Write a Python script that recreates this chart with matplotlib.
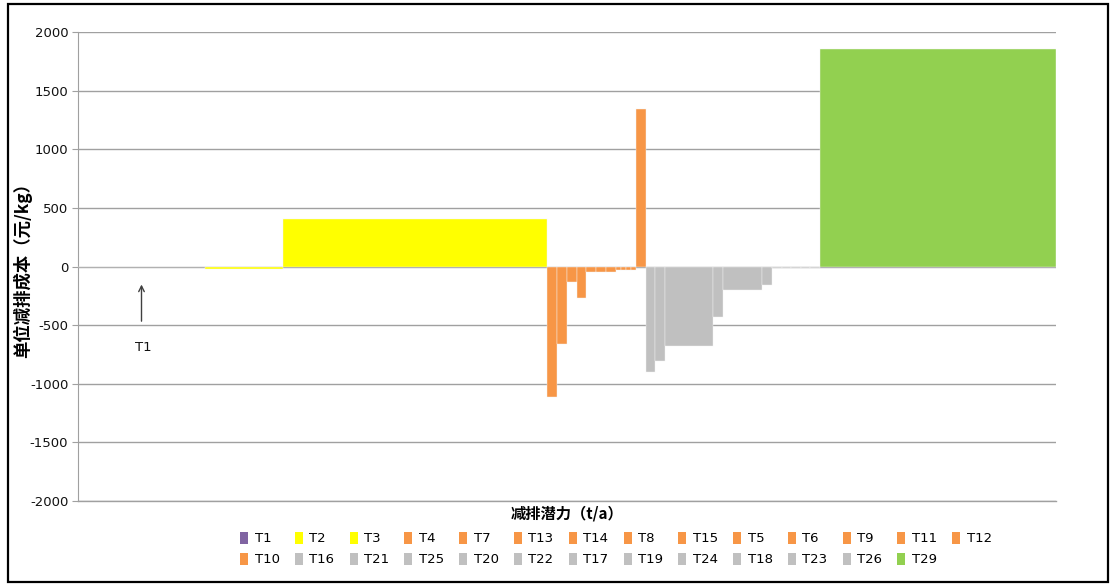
import numpy as np
import matplotlib
matplotlib.use("Agg")
import matplotlib.pyplot as plt
from matplotlib.patches import Patch, Rectangle

plt.rcParams['font.family'] = ['DejaVu Sans', 'Noto Sans CJK SC']
plt.rcParams['axes.unicode_minus'] = False

# measures in the order drawn along the curve
labels = ["T1", "T2", "T3",
          "T4", "T7", "T13", "T14", "T8", "T15", "T5", "T6", "T9", "T11", "T12", "T10",
          "T16", "T21", "T25", "T20", "T22", "T17", "T19", "T24", "T18", "T23", "T26",
          "T29"]
# abatement potential (t/a), bar widths
potential = [127, 78, 264,
             9.5, 10, 10, 9.5, 10, 10, 10, 5, 5, 5, 5, 10,
             9, 10, 48, 10, 39, 10, 9.6, 9.6, 9.6, 9.6, 9.6,
             236]
# unit abatement cost (yuan/kg), bar heights
cost = [0, -25, 403,
        -1110, -660, -135, -271, -44, -44, -44, -27, -27, -27, -27, 1340,
        -900, -805, -678, -428, -197, -160, -15, -15, -12, -12, -10,
        1855]
groups = ["p", "y", "y",
          "o", "o", "o", "o", "o", "o", "o", "o", "o", "o", "o", "o",
          "g", "g", "g", "g", "g", "g", "g", "g", "g", "g", "g",
          "n"]
palette = {"p": "#8064A2", "y": "#FFFF00", "o": "#F79646", "g": "#C0C0C0", "n": "#92D050"}
colors = [palette[g] for g in groups]

left = np.concatenate([[0], np.cumsum(potential)[:-1]])

fig = plt.figure(figsize=(11.15, 5.87), dpi=100)
ax = fig.add_axes([78/1115, 1 - 501/587, 978/1115, 469/587])

bars = ax.bar(left, cost, width=potential, align='edge', color=colors,
              edgecolor='#f4f4f4', linewidth=0.3, zorder=3)

ax.set_xlim(0, sum(potential))
ax.set_ylim(-2000, 2000)
ax.set_yticks(np.arange(-2000, 2001, 500))
ax.set_xticks([])
ax.grid(axis='y', color='#A0A0A0', linewidth=1, zorder=0)
for s in ['top', 'right']:
    ax.spines[s].set_visible(False)
ax.spines['left'].set_color('#A0A0A0')
ax.spines['bottom'].set_color('#A0A0A0')
ax.spines['bottom'].set_linewidth(1)
ax.tick_params(axis='y', direction='out', length=4, color='#A0A0A0',
               labelsize=9.5, labelcolor='#111111', pad=3)

# arrow pointing at T1
t1_x = left[0] + potential[0] / 2
ax.annotate('', xy=(t1_x, -130), xytext=(t1_x, -490),
            arrowprops=dict(arrowstyle='->', color='#404040', lw=1))
ax.text(t1_x + 2, -690, 'T1', ha='center', va='center', fontsize=9.5, color='#111111')

ax.set_ylabel('单位减排成本（元/kg）', fontsize=12.5, fontweight='bold',
              family=['Noto Sans CJK SC', 'DejaVu Sans'])
ax.yaxis.set_label_coords(-0.047, 0.5)
ax.set_xlabel('减排潜力（t/a）', fontsize=11, fontweight='bold',
              family=['Noto Sans CJK SC', 'DejaVu Sans'])
ax.xaxis.set_label_coords(0.5, -0.01)

# legend in two rows, 14 per row, row-major order
legend_order = ["T1", "T2", "T3", "T4", "T7", "T13", "T14", "T8", "T15", "T5", "T6", "T9", "T11", "T12",
                "T10", "T16", "T21", "T25", "T20", "T22", "T17", "T19", "T24", "T18", "T23", "T26", "T29"]
handles = {lab: Patch(facecolor=c, edgecolor='none') for lab, c in zip(labels, colors)}
ncol = 14
row1 = legend_order[:ncol]
row2 = legend_order[ncol:]
ordered = []
for j in range(ncol):
    ordered.append(row1[j])
    if j < len(row2):
        ordered.append(row2[j])
leg = fig.legend([handles[l] for l in ordered], ordered, ncol=ncol,
                 loc='center', bbox_to_anchor=(616/1115, 1 - 549/587),
                 frameon=False, fontsize=9.5, handlelength=0.6, handleheight=1.1,
                 handletextpad=0.5, columnspacing=1.15, labelspacing=0.55)

# outer chart frame
fig.patches.append(Rectangle((8/1115, 5/587), 1100/1115, 578/587, transform=fig.transFigure,
                             fill=False, edgecolor='black', linewidth=1.6))

fig.savefig('out.png', dpi=100)
